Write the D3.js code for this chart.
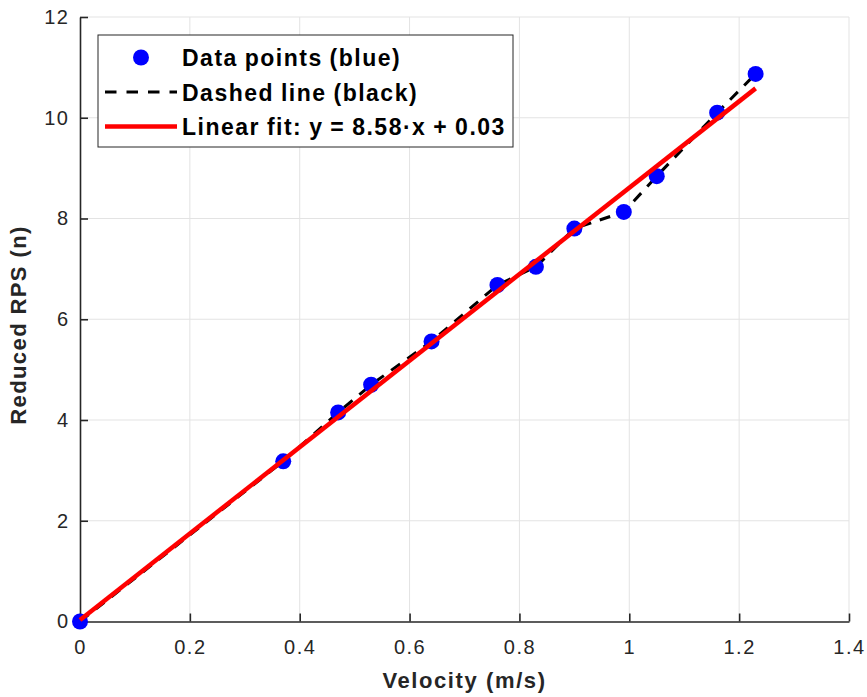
<!DOCTYPE html>
<html>
<head>
<meta charset="utf-8">
<script src="https://cdn.jsdelivr.net/npm/d3@7"></script>
<style>
  body { margin: 0; background: #fff; }
  svg { display: block; font-family: Arial, "Liberation Sans", sans-serif; }
</style>
</head>
<body>
<div id="chart"></div>
<script>
// data
var velocity = [0, 0.37, 0.47, 0.53, 0.64, 0.76, 0.83, 0.90, 0.99, 1.05, 1.16, 1.23];
var rps = [0, 3.18, 4.15, 4.70, 5.56, 6.68, 7.04, 7.80, 8.13, 8.84, 10.10, 10.87];
var fitSlope = 8.58;
var fitIntercept = 0.03;
var xTicks = [0, 0.2, 0.4, 0.6, 0.8, 1, 1.2, 1.4];
var yTicks = [0, 2, 4, 6, 8, 10, 12];
var legendLabels = ["Data points (blue)", "Dashed line (black)", "Linear fit: y = 8.58\u00b7x + 0.03"];

var width = 867, height = 697;
var margin = { left: 80, right: 18, top: 17, bottom: 75.5 };

var svg = d3.select("#chart").append("svg")
    .attr("width", width)
    .attr("height", height);

var x = d3.scaleLinear().domain([0, 1.4]).range([margin.left, width - margin.right]);
var y = d3.scaleLinear().domain([0, 12]).range([height - margin.bottom, margin.top]);

// grid
svg.append("g").selectAll("line")
    .data(xTicks.slice(1))
    .enter().append("line")
    .attr("x1", function(d) { return x(d); })
    .attr("x2", function(d) { return x(d); })
    .attr("y1", y(0)).attr("y2", y(12))
    .attr("stroke", "#e3e3e3").attr("stroke-width", 1);
svg.append("g").selectAll("line")
    .data(yTicks.slice(1))
    .enter().append("line")
    .attr("x1", x(0)).attr("x2", x(1.4))
    .attr("y1", function(d) { return y(d); })
    .attr("y2", function(d) { return y(d); })
    .attr("stroke", "#e3e3e3").attr("stroke-width", 1);

// axes (ticks point inward)
var xAxis = svg.append("g")
    .attr("transform", "translate(0," + y(0) + ")")
    .call(d3.axisBottom(x).tickValues(xTicks).tickFormat(d3.format("~g")).tickSizeInner(-8).tickSizeOuter(0).tickPadding(18));
var yAxis = svg.append("g")
    .attr("transform", "translate(" + x(0) + ",0)")
    .call(d3.axisLeft(y).tickValues(yTicks).tickSizeInner(-8).tickSizeOuter(0).tickPadding(10.5));

[xAxis, yAxis].forEach(function(a) {
    a.select(".domain").attr("stroke", "#262626").attr("stroke-width", 1.6);
    a.selectAll(".tick line").attr("stroke", "#262626").attr("stroke-width", 1.6);
    a.selectAll(".tick text").attr("fill", "#262626")
        .style("font-size", "20px").style("letter-spacing", "1.5px");
});

// dashed line through points
var line = d3.line()
    .x(function(d, i) { return x(velocity[i]); })
    .y(function(d) { return y(d); });

svg.append("path")
    .datum(rps)
    .attr("d", line)
    .attr("fill", "none")
    .attr("stroke", "#000")
    .attr("stroke-width", 3)
    .attr("stroke-dasharray", "11,9");

// points
svg.append("g").selectAll("circle")
    .data(rps)
    .enter().append("circle")
    .attr("cx", function(d, i) { return x(velocity[i]); })
    .attr("cy", function(d) { return y(d); })
    .attr("r", 8)
    .attr("fill", "#0000ff");

// linear fit
var fitX = [0, d3.max(velocity)];
svg.append("path")
    .datum(fitX)
    .attr("d", d3.line()
        .x(function(d) { return x(d); })
        .y(function(d) { return y(fitSlope * d + fitIntercept); }))
    .attr("fill", "none")
    .attr("stroke", "#ff0000")
    .attr("stroke-width", 4.5);

// axis labels
svg.append("text")
    .attr("x", (x(0) + x(1.4)) / 2)
    .attr("y", 688)
    .attr("text-anchor", "middle")
    .attr("fill", "#262626")
    .style("font-size", "22px").style("font-weight", "bold").style("letter-spacing", "1.6px")
    .text("Velocity (m/s)");

svg.append("text")
    .attr("transform", "translate(26,325) rotate(-90)")
    .attr("text-anchor", "middle")
    .attr("fill", "#262626")
    .style("font-size", "22px").style("font-weight", "bold").style("letter-spacing", "1.4px")
    .text("Reduced RPS (n)");

// legend
var legend = svg.append("g");
legend.append("rect")
    .attr("x", 98).attr("y", 35)
    .attr("width", 415).attr("height", 112)
    .attr("fill", "#fff")
    .attr("stroke", "#262626").attr("stroke-width", 1);

var rowY = [57.5, 92, 126.5];
legend.append("circle")
    .attr("cx", 141).attr("cy", rowY[0]).attr("r", 8).attr("fill", "#0000ff");
legend.append("line")
    .attr("x1", 105).attr("x2", 177).attr("y1", rowY[1]).attr("y2", rowY[1])
    .attr("stroke", "#000").attr("stroke-width", 3).attr("stroke-dasharray", "11.5,10");
legend.append("line")
    .attr("x1", 105).attr("x2", 177).attr("y1", rowY[2]).attr("y2", rowY[2])
    .attr("stroke", "#ff0000").attr("stroke-width", 4.5);

legend.selectAll("text")
    .data(legendLabels)
    .enter().append("text")
    .attr("x", 182)
    .attr("y", function(d, i) { return rowY[i] + 8.5; })
    .attr("fill", "#000")
    .style("font-size", "23px").style("font-weight", "bold")
    .style("letter-spacing", "1.5px").style("word-spacing", "-1px")
    .text(function(d) { return d; });
</script>
</body>
</html>
